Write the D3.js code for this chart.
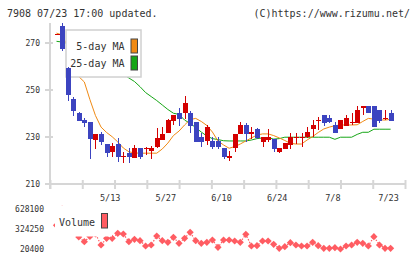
<!DOCTYPE html>
<html>
<head>
<meta charset="utf-8">
<script src="https://cdn.jsdelivr.net/npm/d3@7.9.0/dist/d3.min.js"></script>
<style>
  body { margin: 0; background: #fff; }
  svg { display: block; font-family: "DejaVu Sans Mono", monospace; }
</style>
</head>
<body>
<svg id="chart" width="420" height="259"></svg>
<script>
// trading days shown (2024)
const dates = ['4/24','4/25','4/26','4/30','5/1','5/2','5/7','5/8','5/9','5/10',
  '5/13','5/14','5/15','5/16','5/17','5/20','5/21','5/22','5/23','5/24',
  '5/27','5/28','5/29','5/30','5/31','6/3','6/4','6/5','6/6','6/7',
  '6/10','6/11','6/12','6/13','6/14','6/17','6/18','6/19','6/20','6/21',
  '6/24','6/25','6/26','6/27','6/28','7/1','7/2','7/3','7/4','7/5',
  '7/8','7/9','7/10','7/11','7/12','7/16','7/17','7/18','7/19','7/22','7/23'];

const open = [273.4,277.2,259.0,246.0,240.1,237.0,236.0,228.5,231.2,226.8,
  223.5,226.8,221.6,222.9,220.7,225.0,224.6,224.0,225.7,228.5,
  231.6,236.7,239.9,239.9,240.1,236.0,229.7,228.2,228.1,228.1,
  225.0,220.7,225.0,230.9,234.9,230.9,233.2,227.8,228.5,228.8,
  223.5,224.6,226.4,229.6,229.6,229.7,233.0,236.9,239.1,237.7,
  234.9,233.1,234.6,235.9,235.9,242.0,243.0,243.0,241.3,237.6,240.1];
const high = [273.6,278.2,259.7,246.8,240.5,238.0,236.0,231.1,231.8,226.8,
  227.1,229.2,223.5,225.0,226.4,225.0,225.7,226.0,233.5,234.2,
  237.5,239.1,242.0,247.2,241.0,236.0,231.4,234.9,229.9,229.9,
  225.0,223.8,231.1,236.3,235.6,234.2,233.5,229.9,233.2,228.8,
  225.2,227.1,231.4,231.4,231.4,234.2,237.0,238.4,239.1,239.1,
  236.3,237.0,239.1,239.9,243.0,243.0,243.0,243.0,241.3,241.3,241.3];
const low = [273.4,266.4,245.1,238.9,236.5,234.2,220.4,224.7,226.4,221.4,
  221.4,219.3,218.6,218.6,220.7,220.3,222.1,220.4,225.0,228.5,
  231.6,234.9,234.6,237.3,231.6,227.8,225.7,226.4,224.7,224.7,
  220.4,219.7,223.5,230.9,227.8,228.8,229.0,225.7,227.5,223.3,
  222.9,224.6,224.6,226.7,225.7,229.3,229.9,232.8,234.6,235.6,
  231.6,233.1,234.6,234.9,235.9,239.1,239.9,233.9,235.9,237.0,236.7];
const close = [273.6,267.1,247.7,241.0,236.7,235.6,228.8,231.1,227.8,222.9,
  226.1,221.4,221.8,221.1,225.0,221.4,225.0,225.2,229.2,231.1,
  237.0,239.1,237.4,244.1,234.6,227.8,227.5,234.2,225.7,225.7,
  221.4,221.8,231.1,234.9,230.9,232.0,229.5,229.9,229.8,224.7,
  225.2,227.1,229.9,229.8,229.8,232.0,234.9,237.1,235.9,236.0,
  231.6,237.0,238.0,236.1,241.3,243.0,239.9,233.9,236.7,237.8,236.7];

// moving averages
const ma5 = [274.0,273.2,268.5,262.0,255.5,253.2,245.7,238.9,234.0,231.7,
  229.9,227.7,225.1,223.5,223.0,222.9,222.9,222.9,222.9,224.7,
  227.2,230.4,232.3,234.9,237.2,237.7,236.4,234.7,231.9,228.1,
  226.4,225.0,225.7,226.8,228.1,229.4,230.6,231.1,231.1,230.4,
  229.4,228.3,227.1,226.8,226.8,228.5,230.0,231.7,233.2,234.0,
  234.6,234.9,234.9,234.9,235.0,236.4,237.7,237.4,237.1,237.0,237.3];
const ma25 = [270.5,270.2,269.6,268.7,267.6,266.5,265.3,264.0,262.6,261.1,
  259.6,258.1,256.5,254.9,253.4,251.2,248.7,247.0,245.3,243.4,
  241.5,239.9,239.4,237.0,235.6,233.8,231.9,230.2,229.1,228.7,
  228.2,228.1,228.1,228.1,228.1,228.5,229.1,229.4,229.5,228.9,
  229.1,229.7,229.7,229.7,229.7,229.7,229.7,229.7,229.7,229.7,
  228.8,229.7,229.7,229.7,230.9,231.8,231.8,233.1,233.1,233.1,233.1];

const volume = [380000,628100,420000,300000,202700,131300,210000,250000,81200,183000,
  183000,258900,248300,131300,167800,146500,66000,81200,217900,146500,
  122200,198200,107000,183000,274100,146500,107000,122200,157100,46200,
  157100,157100,141900,122200,243700,66000,70500,141900,141900,91800,
  31000,55300,116100,81200,66000,66000,122200,70500,31000,31000,
  40100,20400,66000,81200,122200,107000,66000,207300,81200,31000,31000];

const dateTicks = ['5/13','5/27','6/10','6/24','7/8','7/23'];
const priceTicks = [210, 230, 250, 270];
const volumeTicks = [20400, 324250, 628100];

const red = '#d40000', blue = '#3c44c0', orange = '#f08a14', green = '#16a616';
const volColor = '#ff5c62', gridColor = '#d6d6d6', textColor = '#333';

const svg = d3.select('#chart');

const x = d3.scalePoint().domain(dates).range([56.5, 390.6]);
const y = d3.scaleLinear().domain([210, 280]).range([183.5, 19]);
const yv = d3.scaleLinear().domain([20400, 628100]).range([249, 209]);
const grid = d3.scaleLinear().domain([0, 11]).range([50, 405]);

// header
svg.append('text').attr('x', 7).attr('y', 17).attr('font-size', 10).attr('fill', textColor)
  .text('7908 07/23 17:00 updated.');
svg.append('text').attr('x', 410).attr('y', 17).attr('font-size', 10).attr('fill', textColor)
  .attr('text-anchor', 'end').text('(C)https://www.rizumu.net/');

// axes
const xAxis = svg.append('g').attr('transform', 'translate(0,180)')
  .call(d3.axisBottom(grid).ticks(11).tickSize(9).tickFormat(''));
xAxis.select('.domain').remove();
xAxis.selectAll('line').attr('stroke', gridColor).attr('stroke-width', 2);

const yAxis = svg.append('g').attr('transform', 'translate(53,0)')
  .call(d3.axisLeft(y).tickValues(priceTicks).tickSize(8).tickPadding(5));
yAxis.select('.domain').remove();
yAxis.selectAll('line').attr('stroke', gridColor).attr('stroke-width', 2);
yAxis.selectAll('text').attr('font-size', 8).attr('fill', textColor)
  .attr('font-family', '"DejaVu Sans Mono", monospace');

svg.append('line').attr('x1', 50).attr('x2', 50).attr('y1', 23).attr('y2', 189)
  .attr('stroke', gridColor).attr('stroke-width', 2);
svg.append('line').attr('x1', 49).attr('x2', 406).attr('y1', 184).attr('y2', 184)
  .attr('stroke', gridColor).attr('stroke-width', 2);

svg.append('g').selectAll('text').data(dateTicks).join('text')
  .attr('x', (d) => x(d) - 2).attr('y', 201).attr('text-anchor', 'middle')
  .attr('font-size', 8.5).attr('fill', textColor).text((d) => d);

// moving averages
const maLine = (vals) => d3.line().x((d, i) => x(dates[i])).y((d) => y(d))(vals);
svg.append('path').attr('d', maLine(ma25)).attr('fill', 'none')
  .attr('stroke', green).attr('stroke-width', 1);
svg.append('path').attr('d', maLine(ma5)).attr('fill', 'none')
  .attr('stroke', orange).attr('stroke-width', 1);

// legend
svg.append('rect').attr('x', 66).attr('y', 30).attr('width', 75).attr('height', 47)
  .attr('fill', '#fff').attr('stroke', '#d0d0d0').attr('stroke-width', 1.5);
const legendItems = [['5-day MA', orange, 46], ['25-day MA', green, 63]];
legendItems.forEach(([label, color, cy]) => {
  svg.append('text').attr('x', 124.5).attr('y', cy + 3.5).attr('text-anchor', 'end')
    .attr('font-size', 10).attr('fill', textColor).text(label);
  svg.append('rect').attr('x', 131).attr('y', cy - 7).attr('width', 6.5).attr('height', 14)
    .attr('fill', color).attr('stroke', '#444').attr('stroke-width', 1);
});

// candles
const candles = svg.append('g').attr('shape-rendering', 'crispEdges');
dates.forEach((d, i) => {
  const cx = Math.round(x(d));
  const color = close[i] >= open[i] ? red : blue;
  candles.append('line').attr('x1', cx + 0.5).attr('x2', cx + 0.5)
    .attr('y1', y(high[i])).attr('y2', y(low[i])).attr('stroke', color);
  const top = y(Math.max(open[i], close[i]));
  const h = Math.max(1, y(Math.min(open[i], close[i])) - top);
  candles.append('rect').attr('x', cx - 2).attr('y', top)
    .attr('width', 5).attr('height', h).attr('fill', color);
});

// volume
const volLine = d3.line().x((d, i) => x(dates[i])).y((d) => yv(d));
svg.append('path').attr('d', volLine(volume)).attr('fill', 'none')
  .attr('stroke', volColor).attr('stroke-width', 1.2).attr('stroke-dasharray', '1.5,1.5');
svg.append('g').selectAll('path').data(volume).join('path')
  .attr('transform', (d, i) => `translate(${x(dates[i])},${yv(d)})`)
  .attr('d', 'M0,-3.6L3.6,0L0,3.6L-3.6,0Z').attr('fill', volColor);

svg.append('g').selectAll('text').data(volumeTicks).join('text')
  .attr('x', 44).attr('y', (d) => yv(d) + 3).attr('text-anchor', 'end')
  .attr('font-size', 8).attr('fill', textColor).text((d) => d);

// volume legend
svg.append('rect').attr('x', 55).attr('y', 206).attr('width', 57).attr('height', 30.5)
  .attr('fill', '#fff');
svg.append('text').attr('x', 59).attr('y', 226).attr('font-size', 10)
  .attr('fill', textColor).text('Volume');
svg.append('rect').attr('x', 101.5).attr('y', 213.5).attr('width', 6).attr('height', 14.5)
  .attr('fill', volColor).attr('stroke', '#444').attr('stroke-width', 1);
</script>
</body>
</html>
